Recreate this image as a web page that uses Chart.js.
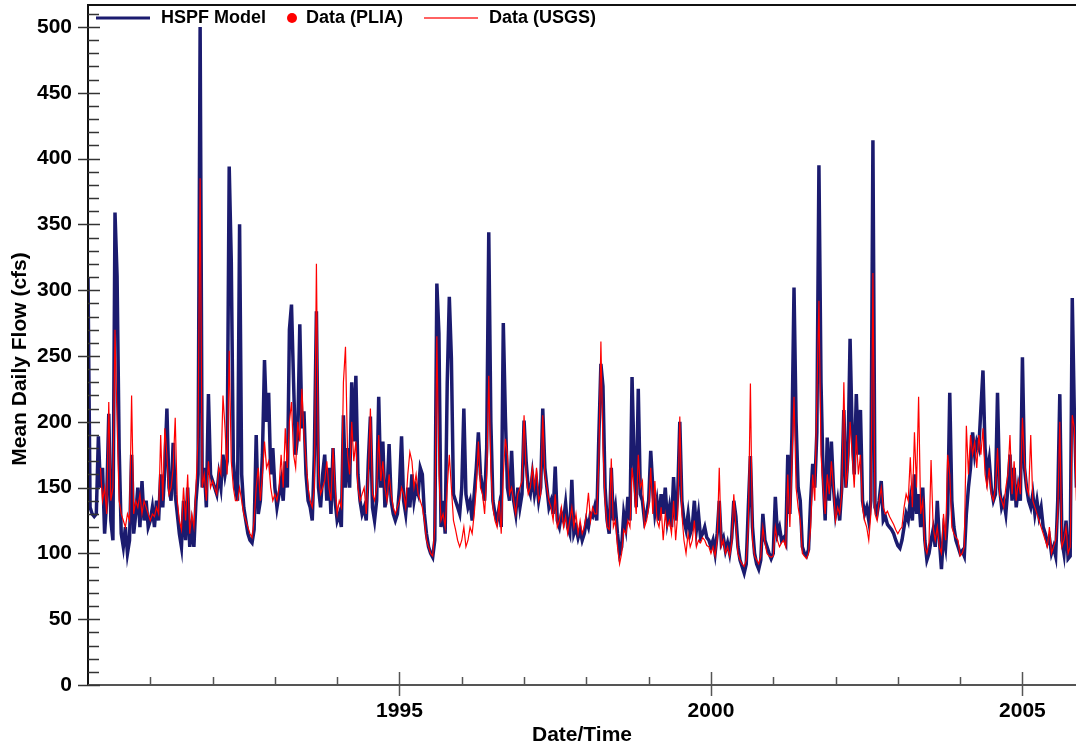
<!DOCTYPE html>
<html>
<head>
<meta charset="utf-8">
<title>HSPF Model vs Data</title>
<script src="https://cdn.jsdelivr.net/npm/chart.js@4"></script>
<style>
  html, body { margin: 0; padding: 0; background: #fff; }
  #wrap { width: 1076px; height: 750px; }
</style>
</head>
<body>
<div id="wrap"><canvas id="flowChart"></canvas></div>
<script>
// one row per calendar year, 30 readings per year (about every 12 days)
const years = [1990, 1991, 1992, 1993, 1994, 1995, 1996, 1997, 1998, 1999, 2000, 2001, 2002, 2003, 2004, 2005];
const stepsPerYear = 30;

// HSPF model, mean daily flow (cfs)
const modelFlow = [
  [310,135,130,128,130,189,150,165,115,140,206,125,110,359,311,180,115,105,120,100,110,175,115,130,150,120,155,125,140,120],
  [125,135,120,140,125,160,135,165,210,150,140,184,145,130,115,105,140,110,150,105,120,105,140,160,500,150,165,135,221,160],
  [155,150,145,160,150,175,160,170,394,322,170,150,140,350,160,135,125,115,110,108,118,190,130,140,175,247,200,222,160,180],
  [150,135,145,155,140,170,150,270,289,230,175,190,274,195,208,160,140,135,125,175,284,150,135,160,175,140,165,130,180,140],
  [125,130,120,205,150,180,150,230,185,235,160,140,130,135,125,170,204,135,125,140,219,150,185,135,145,183,140,130,125,130],
  [150,189,140,130,150,135,160,140,150,145,165,160,130,115,105,100,97,110,305,267,120,140,115,230,295,248,145,140,135,130],
  [150,210,145,135,140,125,145,165,192,160,150,140,180,344,200,140,130,125,135,120,275,204,150,140,178,140,130,150,135,145],
  [201,170,150,145,160,145,155,140,150,210,165,150,135,140,130,166,125,120,130,125,138,120,115,156,115,120,112,118,110,115],
  [125,120,130,128,135,125,188,244,227,150,125,115,165,125,135,115,100,105,130,120,143,125,234,170,135,225,145,140,125,130],
  [140,178,150,130,140,125,145,130,150,125,135,120,158,125,145,200,140,125,118,130,115,120,140,118,130,112,115,120,112,110],
  [105,110,100,115,140,108,112,102,108,100,112,140,128,105,95,90,85,92,135,174,120,100,92,88,95,130,110,105,100,96],
  [100,143,115,120,110,112,108,175,130,190,302,200,150,140,105,100,98,103,140,168,150,192,395,230,160,125,188,140,185,150],
  [130,140,125,150,209,150,175,263,192,160,221,175,209,140,130,135,125,140,414,135,130,140,155,125,128,122,120,118,115,110],
  [106,104,110,120,130,125,140,125,160,130,145,120,150,110,95,100,110,118,105,140,110,88,115,105,130,222,140,120,110,105],
  [100,102,98,130,150,165,192,175,185,180,210,239,180,160,171,150,140,145,222,150,135,140,130,150,175,140,165,135,150,140],
  [249,165,150,140,135,145,130,140,128,135,120,115,108,112,100,105,98,140,221,110,100,125,96,98,294,206,150]
];

// USGS gauge, mean daily flow (cfs)
const usgsFlow = [
  [null,null,null,null,null,null,165,140,150,130,215,140,150,270,200,140,130,125,120,130,125,220,130,140,135,145,130,140,135,130],
  [125,130,128,135,130,190,140,195,175,145,150,165,203,140,125,118,150,125,160,115,130,120,150,188,385,150,160,140,170,150],
  [155,150,145,165,160,220,195,160,254,170,150,140,140,150,140,130,125,120,115,112,125,150,165,140,160,185,165,170,150,140],
  [145,140,150,175,150,195,165,200,215,175,165,200,185,225,190,170,150,140,135,150,320,160,145,150,155,170,150,140,180,150],
  [130,140,135,230,257,175,160,200,170,185,150,140,145,150,130,160,210,145,140,150,190,155,170,150,140,160,145,135,130,135],
  [140,150,145,135,160,177,170,150,160,145,140,135,125,110,105,100,98,120,265,160,125,130,120,150,175,150,125,118,110,105],
  [110,120,105,110,120,115,130,150,185,150,145,130,160,235,165,135,125,120,140,115,160,187,175,145,150,140,130,145,150,155],
  [205,160,145,150,165,150,165,140,145,205,160,150,140,135,125,145,120,125,135,120,128,115,125,135,120,130,115,125,115,120],
  [130,146,125,135,130,130,170,261,180,140,120,118,172,120,125,105,92,100,118,115,125,120,165,150,130,175,150,155,120,125],
  [135,165,130,155,125,120,135,110,130,120,125,115,140,110,130,204,130,110,100,115,105,110,125,105,110,108,112,110,106,105],
  [100,105,98,110,165,105,110,100,105,98,108,145,120,100,95,92,90,95,120,229,110,98,95,92,98,120,108,100,98,97],
  [98,120,110,105,108,110,105,160,120,170,219,150,135,125,100,98,96,100,120,160,140,218,292,175,150,130,160,145,170,150],
  [125,135,130,145,230,150,165,200,175,150,190,160,175,135,125,120,110,130,313,130,125,140,150,135,130,132,128,125,122,118],
  [115,118,120,135,145,140,173,135,192,150,219,130,140,105,100,108,171,120,110,120,105,100,130,110,175,160,120,115,112,110],
  [98,100,105,197,160,190,175,185,165,190,175,195,160,150,165,145,140,150,180,145,140,135,150,160,190,145,170,140,155,145],
  [203,170,150,145,190,140,135,130,125,120,115,110,105,120,100,105,110,130,200,105,110,120,100,105,205,195,140]
];

// PLIA samples: none fall inside this window
const pliaFlow = [];

const yearLabels = [1995, 2000, 2005];
const xMin = 1990, xMax = 2005.86;
const yMax = 516.7, yMajor = 50, yMinor = 10;
const yTitle = 'Mean Daily Flow (cfs)';

function toPoints(rows) {
  const pts = [];
  rows.forEach((row, r) => {
    row.forEach((q, j) => pts.push({ x: years[r] + j / stepsPerYear, y: q }));
  });
  return pts;
}

const NAVY = '#1b1b6f';
const RED = '#ff0000';
const FONT = '"Liberation Sans", Arial, sans-serif';

// legend drawn inside the plot frame, like the original
const insideLegend = {
  id: 'insideLegend',
  afterDraw(chart) {
    const { ctx, chartArea } = chart;
    ctx.save();
    ctx.font = 'bold 18px ' + FONT;
    ctx.textBaseline = 'middle';
    let x = chartArea.left + 8;
    const y = chartArea.top + 13;
    chart.data.datasets.forEach(ds => {
      if (ds.showLine === false) {
        ctx.fillStyle = ds.pointBackgroundColor;
        ctx.beginPath();
        ctx.arc(x + 5, y, 5, 0, Math.PI * 2);
        ctx.fill();
        x += 19;
      } else {
        ctx.strokeStyle = ds.legendColor || ds.borderColor;
        ctx.lineWidth = ds.legendWidth || ds.borderWidth;
        ctx.beginPath();
        ctx.moveTo(x, y);
        ctx.lineTo(x + 54, y);
        ctx.stroke();
        x += 65;
      }
      ctx.fillStyle = '#000';
      ctx.fillText(ds.label, x, y);
      x += ctx.measureText(ds.label).width + 21;
    });
    ctx.restore();
  }
};

// frame, tick marks that cross the axes, and the y title (sits a bit below centre)
const frameTicks = {
  id: 'frameTicks',
  afterDraw(chart) {
    const { ctx, chartArea: a, scales: { x, y } } = chart;
    ctx.save();
    ctx.lineWidth = 2;
    ctx.strokeStyle = '#111';
    ctx.beginPath();
    ctx.moveTo(a.left, a.bottom);
    ctx.lineTo(a.left, a.top);
    ctx.lineTo(a.right, a.top);
    ctx.stroke();
    ctx.strokeStyle = '#555';
    ctx.beginPath();
    ctx.moveTo(a.left, a.bottom);
    ctx.lineTo(a.right, a.bottom);
    ctx.stroke();

    ctx.lineWidth = 1.5;
    ctx.strokeStyle = '#333';
    y.ticks.forEach(t => {
      const py = Math.round(y.getPixelForValue(t.value)) + 0.5;
      const major = t.value % yMajor === 0;
      ctx.beginPath();
      ctx.moveTo(major ? a.left - 10 : a.left, py);
      ctx.lineTo(a.left + (major ? 12 : 11), py);
      ctx.stroke();
    });
    ctx.strokeStyle = '#555';
    x.ticks.forEach(t => {
      const px = Math.round(x.getPixelForValue(t.value)) + 0.5;
      const major = yearLabels.includes(t.value);
      ctx.beginPath();
      ctx.moveTo(px, a.bottom - (major ? 13 : 8));
      ctx.lineTo(px, major ? a.bottom + 11 : a.bottom);
      ctx.stroke();
    });

    ctx.translate(20, (a.top + a.bottom) / 2 + 14);
    ctx.rotate(-Math.PI / 2);
    ctx.font = 'bold 21px ' + FONT;
    ctx.fillStyle = '#000';
    ctx.textAlign = 'center';
    ctx.textBaseline = 'middle';
    ctx.fillText(yTitle, 0, 0);
    ctx.restore();
  }
};

new Chart(document.getElementById('flowChart'), {
  type: 'line',
  data: {
    datasets: [{
      label: 'HSPF Model',
      data: toPoints(modelFlow),
      borderColor: NAVY,
      borderWidth: 3.5,
      legendWidth: 3,
      pointRadius: 0,
      tension: 0,
      order: 2
    }, {
      label: 'Data (PLIA)',
      data: pliaFlow,
      showLine: false,
      pointRadius: 4,
      pointBackgroundColor: RED,
      pointBorderColor: RED,
      order: 1
    }, {
      label: 'Data (USGS)',
      data: toPoints(usgsFlow),
      borderColor: RED,
      borderWidth: 1.2,
      legendColor: 'rgba(255, 70, 70, 0.85)',
      legendWidth: 2,
      pointRadius: 0,
      tension: 0,
      spanGaps: false,
      order: 0
    }]
  },
  options: {
    responsive: true,
    maintainAspectRatio: false,
    animation: false,
    devicePixelRatio: 1,
    layout: { padding: { left: 0, top: 5, right: 0, bottom: 0 } },
    plugins: {
      legend: { display: false },
      tooltip: { enabled: false }
    },
    scales: {
      x: {
        type: 'linear',
        min: xMin,
        max: xMax,
        afterBuildTicks: scale => {
          scale.ticks = years.slice(1).map(v => ({ value: v }));
        },
        afterFit: scale => {
          scale.height = 65;
          scale.paddingLeft = 0;
          scale.paddingRight = 0;
        },
        grid: { display: false },
        border: { display: false },
        ticks: {
          autoSkip: false,
          maxRotation: 0,
          padding: 6,
          color: '#000',
          font: { family: FONT, size: 21, weight: 'bold' },
          callback: v => (yearLabels.includes(v) ? String(v) : '')
        },
        title: {
          display: true,
          text: 'Date/Time',
          color: '#000',
          padding: { top: 0, bottom: 2 },
          font: { family: FONT, size: 21, weight: 'bold' }
        }
      },
      y: {
        min: 0,
        max: yMax,
        afterBuildTicks: scale => {
          const t = [];
          for (let v = 0; v <= 510; v += yMinor) t.push({ value: v });
          scale.ticks = t;
        },
        afterFit: scale => {
          scale.width = 88;
          scale.paddingTop = 0;
          scale.paddingBottom = 0;
        },
        grid: { display: false },
        border: { display: false },
        ticks: {
          autoSkip: false,
          padding: 8,
          color: '#000',
          font: { family: FONT, size: 21, weight: 'bold' },
          callback: v => (v % yMajor === 0 ? String(v) : '')
        },
        title: { display: false }
      }
    }
  },
  plugins: [frameTicks, insideLegend]
});
</script>
</body>
</html>
